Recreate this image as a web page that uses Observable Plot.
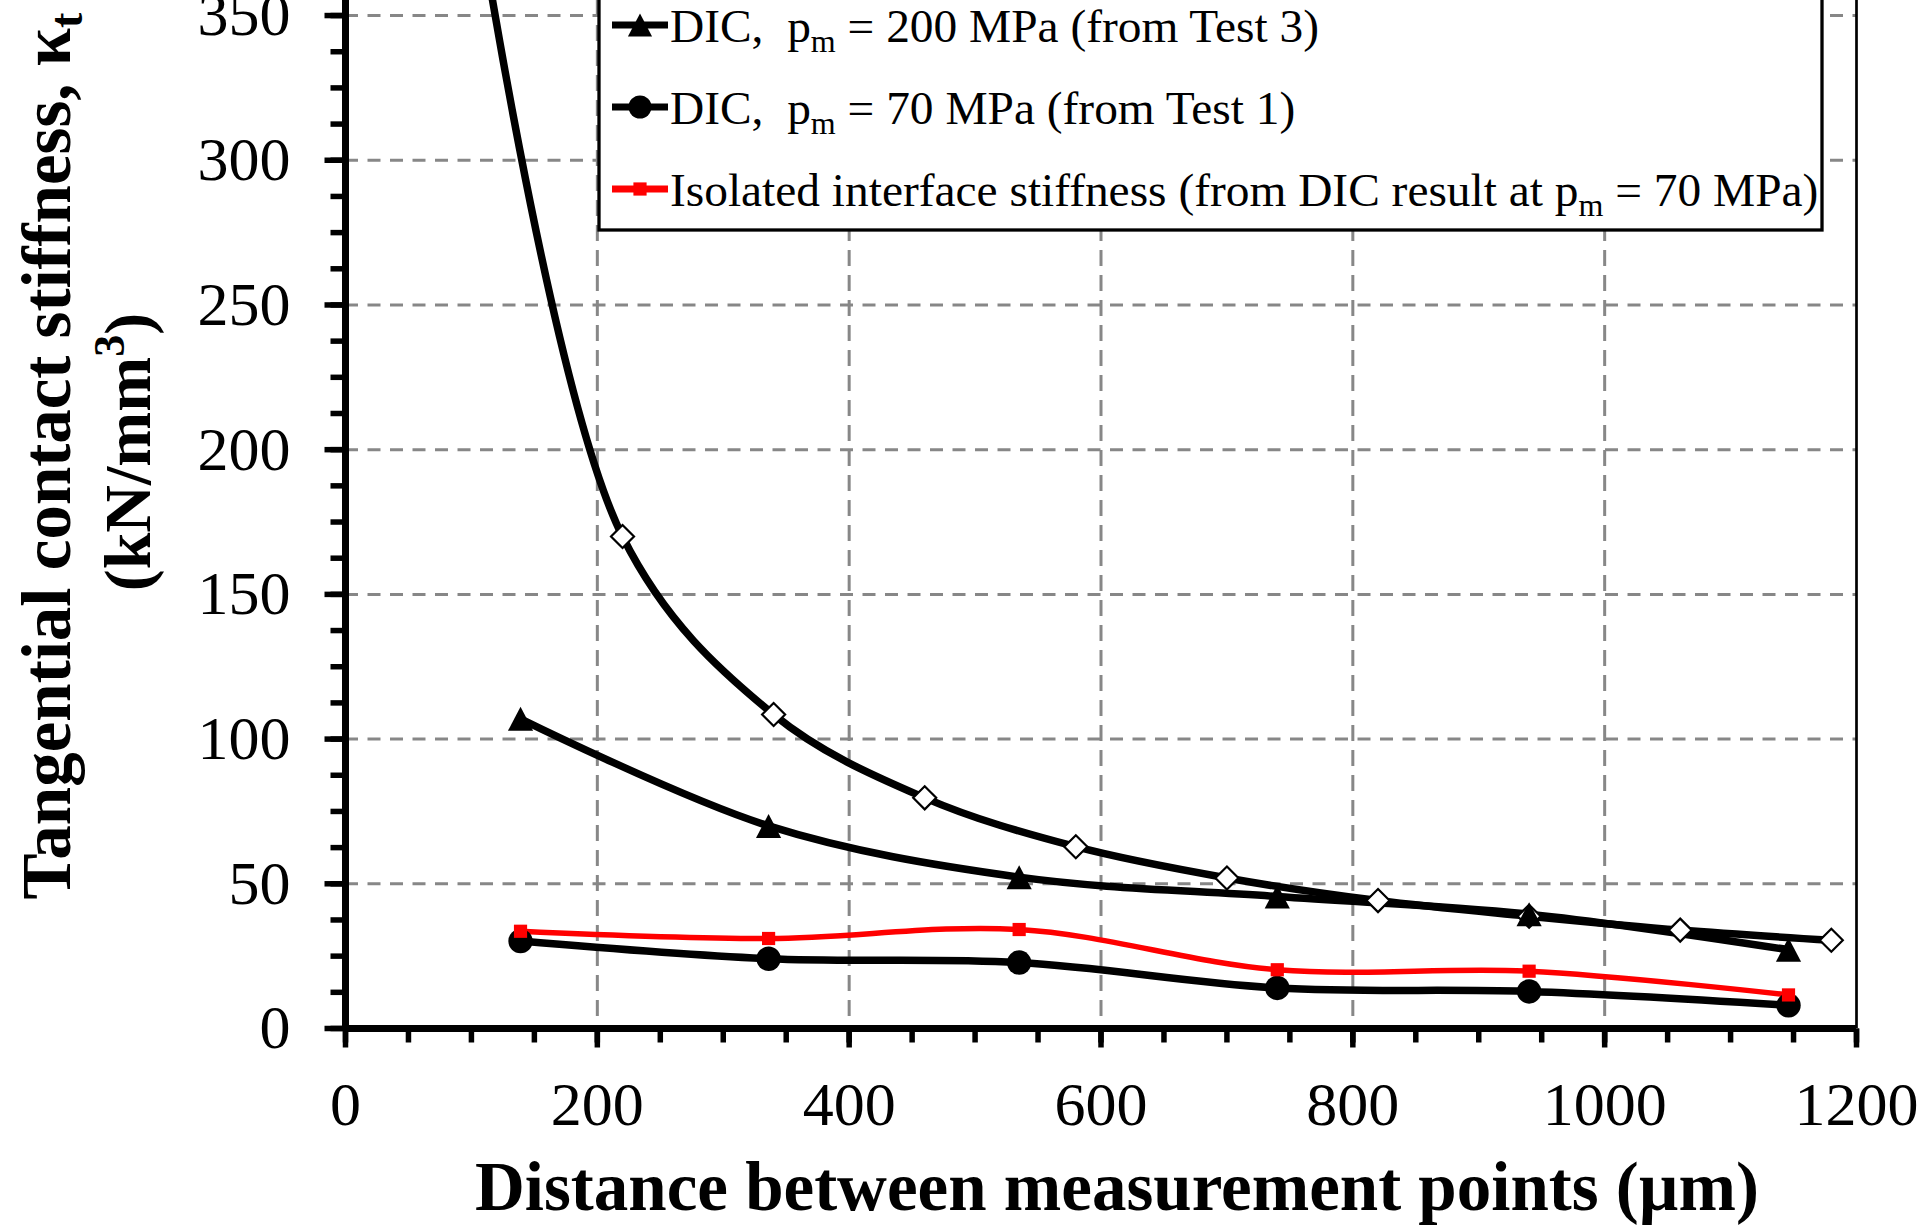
<!DOCTYPE html>
<html><head><meta charset="utf-8">
<script src="https://cdn.jsdelivr.net/npm/d3@7"></script>
<script src="https://cdn.jsdelivr.net/npm/@observablehq/plot@0.6"></script>
<style>body{margin:0;background:#fff} svg{display:block}</style>
</head><body><div id="chart"></div>
<script>
// ---- data ----
const xTicks = [0, 200, 400, 600, 800, 1000, 1200];
const xMinorTicks = d3.range(0, 1201, 50);
const yTicks = [0, 50, 100, 150, 200, 250, 300, 350];
const yMinorTicks = d3.range(0, 351, 12.5);
const xGrid = [200, 400, 600, 800, 1000];
const yGrid = [50, 100, 150, 200, 250, 300, 350];

const diamondX = [100, 220, 340, 460, 580, 700, 820, 940, 1060, 1180];
const diamondY = [400, 170, 108.5, 79.7, 62.8, 52, 44.2, 38.8, 34, 30.5];
const testX = [139, 336, 535, 740, 940, 1146];
const test3Y = [107, 70, 52.3, 45.6, 39.5, 27.2];
const test1Y = [30.2, 24.1, 22.8, 14, 12.8, 8];
const isolatedY = [33.6, 31.1, 34.2, 20.3, 19.8, 11.6];

const legendEntries = [
  {pre: "DIC,  p", sub: "m", post: " = 200 MPa (from Test 3)", symbol: "triangle", color: "black"},
  {pre: "DIC,  p", sub: "m", post: " = 70 MPa (from Test 1)", symbol: "circle", color: "black"},
  {pre: "Isolated interface stiffness (from DIC result at p", sub: "m", post: " = 70 MPa)", symbol: "square", color: "red"}
];
const xTitle = "Distance between measurement points (\u00b5m)";
const yTitle1 = "Tangential contact stiffness, \u03ba";
const yTitle1Sub = "t";
const yTitle2 = "(kN/mm";
const yTitle2Sup = "3";

// ---- build tables ----
const diamonds = diamondX.map((x, i) => ({x, y: diamondY[i]}));
const test3 = testX.map((x, i) => ({x, y: test3Y[i]}));
const test1 = testX.map((x, i) => ({x, y: test1Y[i]}));
const isolated = testX.map((x, i) => ({x, y: isolatedY[i]}));

// custom symbols
const symDiamond = {draw(c, s) { const r = Math.sqrt(s / Math.PI); c.moveTo(0, -r); c.lineTo(r, 0); c.lineTo(0, r); c.lineTo(-r, 0); c.closePath(); }};
const symTriangle = {draw(c, s) { const r = Math.sqrt(s / Math.PI); c.moveTo(0, -r); c.lineTo(1.05 * r, r); c.lineTo(-1.05 * r, r); c.closePath(); }};
const symSquare = {draw(c, s) { const r = Math.sqrt(s / Math.PI); c.rect(-r, -r, 2 * r, 2 * r); }};
const tickLeft = {draw(c, s) { const L = Math.sqrt(s / Math.PI); c.moveTo(0, 0); c.lineTo(-L, 0); }};
const tickDown = {draw(c, s) { const L = Math.sqrt(s / Math.PI); c.moveTo(0, 0); c.lineTo(0, L); }};

const serif = "'Liberation Serif', 'Times New Roman', serif";

const chart = Plot.plot({
  width: 1920,
  height: 1225,
  marginLeft: 345,
  marginRight: 64,
  marginTop: 0,
  marginBottom: 197,
  style: {fontFamily: serif, background: "white", overflow: "visible"},
  x: {domain: [0, 1200], axis: null},
  y: {domain: [0, 355.2], axis: null},
  marks: [
    Plot.gridY(yGrid, {stroke: "#878787", strokeOpacity: 1, strokeWidth: 3, strokeDasharray: "13,9.5"}),
    Plot.gridX(xGrid, {stroke: "#878787", strokeOpacity: 1, strokeWidth: 3, strokeDasharray: "16,9"}),
    Plot.ruleX([1200], {stroke: "black", strokeWidth: 2.7}),
    // lines
    Plot.line(diamonds, {x: "x", y: "y", curve: "catmull-rom", stroke: "black", strokeWidth: 7.5, clip: true}),
    Plot.line(test3, {x: "x", y: "y", curve: "catmull-rom", stroke: "black", strokeWidth: 7.5}),
    Plot.line(test1, {x: "x", y: "y", curve: "catmull-rom", stroke: "black", strokeWidth: 7.5}),
    Plot.line(isolated, {x: "x", y: "y", curve: "catmull-rom", stroke: "red", strokeWidth: 5.5}),
    // markers
    Plot.dot(diamonds, {x: "x", y: "y", symbol: symDiamond, r: 11.5, fill: "white", stroke: "black", strokeWidth: 2.2, clip: true}),
    Plot.dot(test3, {x: "x", y: "y", symbol: symTriangle, r: 12, fill: "black", stroke: "none"}),
    Plot.dot(test1, {x: "x", y: "y", symbol: "circle", r: 12.2, fill: "black", stroke: "none"}),
    Plot.dot(isolated, {x: "x", y: "y", symbol: symSquare, r: 6.6, fill: "red", stroke: "none"}),
    // axes lines
    Plot.ruleY([0], {stroke: "black", strokeWidth: 7}),
    Plot.ruleX([0], {stroke: "black", strokeWidth: 7}),
    // ticks
    Plot.dot(yMinorTicks, {y: d => d, frameAnchor: "left", symbol: tickLeft, r: 15, fill: "none", stroke: "black", strokeWidth: 5.5}),
    Plot.dot(yTicks, {y: d => d, frameAnchor: "left", symbol: tickLeft, r: 21, fill: "none", stroke: "black", strokeWidth: 5.5}),
    Plot.dot(xMinorTicks, {x: d => d, frameAnchor: "bottom", symbol: tickDown, r: 14, fill: "none", stroke: "black", strokeWidth: 5.5}),
    Plot.dot(xTicks, {x: d => d, frameAnchor: "bottom", symbol: tickDown, r: 19, fill: "none", stroke: "black", strokeWidth: 5.5}),
    // tick labels
    Plot.text(yTicks, {y: d => d, text: d => String(d), frameAnchor: "left", dx: -55, textAnchor: "end", lineAnchor: "middle", fontSize: 62, fill: "black"}),
    Plot.text(xTicks, {x: d => d, text: d => String(d), frameAnchor: "bottom", dy: 77, textAnchor: "middle", lineAnchor: "middle", fontSize: 62, fill: "black"})
  ]
});

document.getElementById("chart").appendChild(chart);

// ---- titles and legend drawn on the same svg ----
const svg = d3.select(chart);

svg.append("text")
  .attr("x", 1117).attr("y", 1210)
  .attr("text-anchor", "middle")
  .attr("font-family", serif).attr("font-weight", "bold").attr("font-size", 69)
  .attr("fill", "black")
  .text(xTitle);

const t1 = svg.append("text")
  .attr("transform", "translate(70,456) rotate(-90)")
  .attr("text-anchor", "middle")
  .attr("font-family", serif).attr("font-weight", "bold").attr("font-size", 69)
  .attr("fill", "black");
t1.append("tspan").text(yTitle1);
t1.append("tspan").attr("font-size", 46).attr("dy", 12).text(yTitle1Sub);

const t2 = svg.append("text")
  .attr("transform", "translate(150,452) rotate(-90)")
  .attr("text-anchor", "middle")
  .attr("font-family", serif).attr("font-weight", "bold").attr("font-size", 66)
  .attr("fill", "black");
t2.append("tspan").text(yTitle2);
t2.append("tspan").attr("font-size", 44).attr("dy", -26).text(yTitle2Sup);
t2.append("tspan").attr("dy", 26).text(")");

const lg = svg.append("g");
lg.append("rect").attr("x", 599).attr("y", -10).attr("width", 1223).attr("height", 240)
  .attr("fill", "white").attr("stroke", "black").attr("stroke-width", 3.3);

const symMap = {triangle: symTriangle, circle: d3.symbolCircle, square: symSquare};
legendEntries.forEach((e, i) => {
  const cy = 25 + i * 82;
  const g = lg.append("g");
  g.append("line").attr("x1", 612).attr("x2", 668).attr("y1", cy).attr("y2", cy)
    .attr("stroke", e.color).attr("stroke-width", 7);
  const r = e.symbol === "square" ? 6.6 : 11.5;
  g.append("path").attr("transform", `translate(640,${cy})`)
    .attr("d", d3.symbol(symMap[e.symbol], Math.PI * r * r)())
    .attr("fill", e.color);
  const t = g.append("text").attr("x", 670).attr("y", cy + 17)
    .attr("text-anchor", "start")
    .attr("font-family", serif).attr("font-size", 47.4).attr("fill", "black")
    .style("white-space", "pre");
  t.append("tspan").text(e.pre);
  t.append("tspan").attr("font-size", 32).attr("dy", 10).text(e.sub);
  t.append("tspan").attr("dy", -10).text(e.post);
});
</script>
</body></html>
